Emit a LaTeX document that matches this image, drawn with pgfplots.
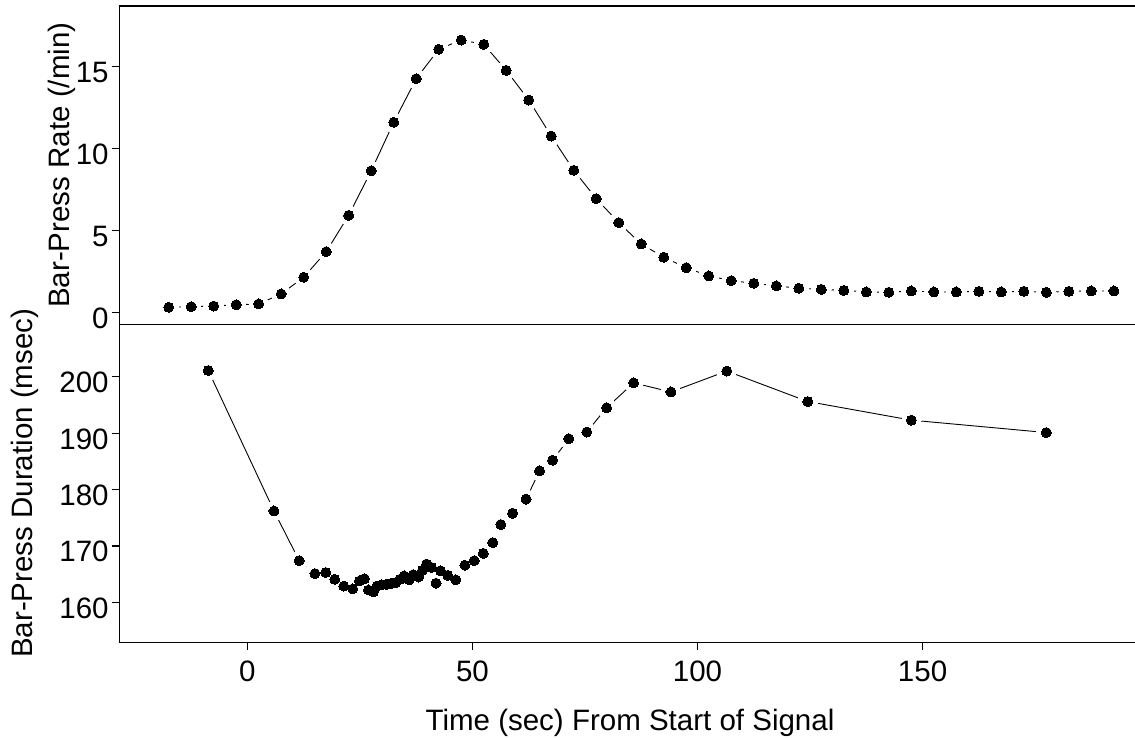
\documentclass[border=0pt]{standalone}
\usepackage{pgfplots}
\pgfplotsset{compat=1.18}
\usepackage{pgfplotstable}
\usepackage{fontspec}
\setmainfont{Liberation Sans}

\pgfplotstableread{
x y
-17.5 0.31
-12.5 0.34
-7.5 0.38
-2.5 0.46
2.5 0.51
7.5 1.12
12.5 2.14
17.5 3.70
22.5 5.92
27.5 8.64
32.5 11.60
37.5 14.26
42.5 16.06
47.5 16.62
52.5 16.36
57.5 14.77
62.5 12.96
67.5 10.76
72.5 8.67
77.5 6.94
82.5 5.47
87.5 4.17
92.5 3.36
97.5 2.72
102.5 2.22
107.5 1.93
112.5 1.77
117.5 1.61
122.5 1.47
127.5 1.40
132.5 1.34
137.5 1.24
142.5 1.22
147.5 1.30
152.5 1.24
157.5 1.24
162.5 1.28
167.5 1.24
172.5 1.28
177.5 1.22
182.5 1.28
187.5 1.30
192.5 1.30
}\ratedata

\pgfplotstableread{
x y
-8.7 201.1
5.9 176.2
11.5 167.4
15.0 165.1
17.4 165.3
19.4 164.1
21.4 162.9
23.4 162.4
24.9 163.8
26.0 164.2
26.9 162.2
28.0 161.9
28.8 162.9
29.8 163.1
30.9 163.2
32.0 163.4
33.0 163.5
33.9 164.1
34.8 164.7
35.9 164.0
36.8 164.9
38.0 164.5
38.9 165.7
39.8 166.8
40.9 166.2
41.9 163.4
42.9 165.6
44.5 164.8
46.3 164.0
48.3 166.6
50.4 167.4
52.4 168.7
54.5 170.6
56.3 173.8
58.9 175.8
61.9 178.3
64.9 183.3
67.8 185.2
71.4 189.0
75.4 190.2
79.8 194.5
85.8 198.9
94.1 197.3
106.5 201.0
124.5 195.6
147.5 192.3
177.5 190.1
}\durdata

\pgfplotsset{
  panel/.style={
    scale only axis,
    width=507.85pt,
    xmin=-28.47, xmax=197.2,
    axis line style={draw=none},
    tick align=outside,
    major tick length=3.85pt,
    tick style={line width=0.6pt, black},
    xtick pos=left, ytick pos=left,
    /pgf/number format/assume math mode=true,
    tick label style={font=\fontsize{14.75}{17}\selectfont},
    label style={font=\fontsize{14.75}{17}\selectfont},
    yticklabel style={anchor=east, inner sep=0pt, yshift=-2.9pt},
    yticklabel shift=1.3pt,
    xticklabel style={anchor=north, inner sep=0pt},
    xticklabel shift=5.35pt,
  },
  dataline/.style={black, line width=0.45pt, mark=none},
  halo/.style={white, only marks, mark=*, mark size=4.85pt, mark options={draw=white, fill=white, line width=0pt}},
  dots/.style={black, only marks, mark=*, mark size=2.5pt, mark options={draw=black, fill=black, line width=0pt}},
}

\begin{document}
\begin{tikzpicture}
\begin{axis}[panel, name=bot,
  at={(0,0)}, anchor=south west,
  height=159pt,
  ymin=152.93, ymax=209.29,
  ytick={160,170,180,190,200},
  xtick={0,50,100,150},
  ylabel={Bar-Press Duration (msec)},
  ylabel style={at={(axis description cs:-0.08497,0.5)}, anchor=base},
  xlabel={Time (sec) From Start of Signal},
  xlabel style={at={(axis description cs:0.5028,0)}, anchor=base, yshift=-44.2pt},
]
\addplot[dataline] table[x=x,y=y] {\durdata};
\addplot[halo] table[x=x,y=y] {\durdata};
\addplot[dots] table[x=x,y=y] {\durdata};
\end{axis}

\begin{axis}[panel, name=top,
  at={(0,159pt)}, anchor=south west,
  height=159.15pt,
  ymin=-0.733, ymax=18.70,
  ytick={0,5,10,15},
  xtick=\empty,
  ylabel={Bar-Press Rate (/min)},
  ylabel style={at={(axis description cs:-0.04854,0.5)}, anchor=base},
]
\addplot[dataline] table[x=x,y=y] {\ratedata};
\addplot[halo] table[x=x,y=y] {\ratedata};
\addplot[dots] table[x=x,y=y] {\ratedata};
\end{axis}

\draw[line width=0.6pt, line cap=rect] (top.north east) -- (top.north west) -- (bot.south west) -- (bot.south east);
\draw[line width=0.6pt] (top.south west) -- (top.south east);

\pgfresetboundingbox
\useasboundingbox (-59.65pt,-47.85pt) rectangle (507.85pt,321.15pt);
\end{tikzpicture}
\end{document}
